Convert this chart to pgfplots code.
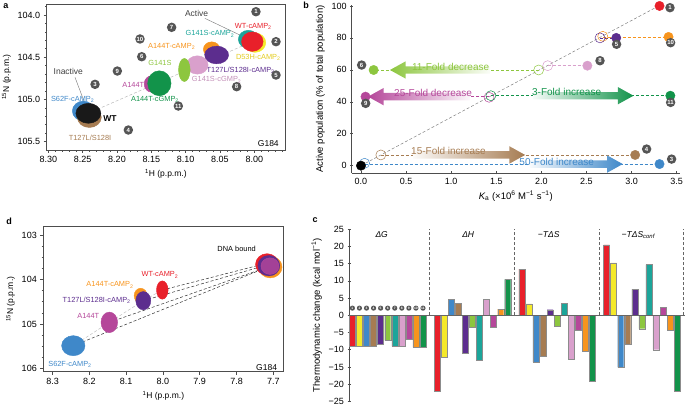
\documentclass[border=0pt]{standalone}
\usepackage{pgfplots}
\pgfplotsset{compat=1.18}
\usepackage{fontspec}
\setmainfont{Liberation Sans}
\usetikzlibrary{shapes.arrows,arrows.meta}
\definecolor{cRed}{HTML}{E8202A}
\definecolor{cYel}{HTML}{F4E92A}
\definecolor{cYelT}{HTML}{E3CC1E}
\definecolor{cBlu}{HTML}{3F88C9}
\definecolor{cBro}{HTML}{A67C52}
\definecolor{cPur}{HTML}{5C2D8E}
\definecolor{cLgr}{HTML}{8DC63F}
\definecolor{cTea}{HTML}{1CA59A}
\definecolor{cPin}{HTML}{D9A0CC}
\definecolor{cMag}{HTML}{B5479A}
\definecolor{cOra}{HTML}{F7941D}
\definecolor{cGre}{HTML}{12934A}
\definecolor{cBadge}{HTML}{555555}
\definecolor{cAx}{HTML}{4D4D4D}
\newcommand\lab{\fontsize{7.4}{8}\selectfont}
\newcommand\tk{\fontsize{9}{10}\selectfont}
\newcommand\al{\fontsize{8.5}{9}\selectfont}
\newcommand\bl{\fontsize{9.5}{10}\selectfont}
\tikzset{badge/.style={circle, fill=cBadge, text=white, inner sep=0pt, minimum size=9.5pt, font=\fontsize{6}{6}\selectfont\bfseries},
  sbadge/.style={circle, fill=cBadge, text=white, inner sep=0pt, minimum size=5.2pt, font=\fontsize{3.3}{3.3}\selectfont\bfseries},
  farrow/.style={single arrow, draw=none, inner xsep=0pt, inner ysep=3.5pt, single arrow head extend=5pt, single arrow tip angle=58}}
\pgfplotsset{
  peak/.style n args={3}{only marks, mark=*, color=#1, mark size=#2, mark options={yscale=#3, draw=none}},
  /pgf/number format/assume math mode=true,
  every axis/.append style={tick align=outside, ticklabel style={font=\tk}, label style={font=\al},
     axis line style={cAx, line width=0.6pt}, tick style={cAx, line width=0.5pt}, major tick length=3pt, minor tick length=1.6pt},
  cbar/.style={ybar, bar width=0.85, bar shift=0pt, fill=#1, draw=black!45, line width=0.3pt}
}
\begin{document}
\begin{tikzpicture}
\path[use as bounding box] (0,0) rectangle (685pt,406pt);
% panel letters
\node[font=\fontsize{9}{9}\selectfont\bfseries] at (6pt,400pt) {a};
\node[font=\fontsize{9}{9}\selectfont\bfseries] at (306pt,401pt) {b};
\node[font=\fontsize{9}{9}\selectfont\bfseries] at (9pt,185pt) {d};
\node[font=\fontsize{9}{9}\selectfont\bfseries] at (315pt,186pt) {c};

% ================= panel a =================
\begin{axis}[at={(46.7pt,256pt)}, anchor=south west, scale only axis, width=238.3pt, height=146pt,
  x dir=reverse, y dir=reverse, xmin=7.9553, xmax=8.3024, ymin=103.870, ymax=105.599,
  xtick={8.30,8.25,8.20,8.15,8.10,8.05,8.00}, xticklabels={8.30,8.25,8.20,8.15,8.10,8.05,8.00},
  minor xtick={7.96,7.97,7.98,7.99,8.01,8.02,8.03,8.04,8.06,8.07,8.08,8.09,8.11,8.12,8.13,8.14,8.16,8.17,8.18,8.19,8.21,8.22,8.23,8.24,8.26,8.27,8.28,8.29},
  ytick={104.0,104.5,105.0,105.5}, yticklabels={104.0,104.5,105.0,105.5},
  minor ytick={103.9,104.1,104.2,104.3,104.4,104.6,104.7,104.8,104.9,105.1,105.2,105.3,105.4,105.6},
  xtick pos=left, ytick pos=left,
  xlabel={\textsuperscript{1}H (p.p.m.)}, ylabel={\textsuperscript{15}N (p.p.m.)}, clip=false]
\addplot[peak={cBlu}{11pt}{0.9}] coordinates {(8.2490,105.137)};
\addplot[peak={cBro}{12pt}{0.85}] coordinates {(8.2403,105.212)};
\addplot[peak={black!90}{12.5pt}{0.8}] coordinates {(8.2417,105.1646)};
\addplot[peak={cTea}{10pt}{0.9}] coordinates {(8.0087,104.288)};
\addplot[peak={cYel}{10.8pt}{0.9}] coordinates {(7.9990,104.3277)};
\addplot[peak={cRed}{10.8pt}{0.9}] coordinates {(8.0029,104.3158)};
\addplot[peak={cOra}{8.3pt}{0.9}] coordinates {(8.0621,104.4066)};
\addplot[only marks, mark=*, color=cPur, mark size=12pt, mark options={yscale=0.74, rotate=20, draw=none}] coordinates {(8.0549,104.4737)};
\addplot[peak={cPin}{10.8pt}{0.85}] coordinates {(8.0830,104.592)};
\addplot[peak={cLgr}{5.8pt}{2.0}] coordinates {(8.1019,104.6514)};
\addplot[peak={cMag}{7.5pt}{1.1}] coordinates {(8.1495,104.817)};
\addplot[peak={cGre}{11.7pt}{1.07}] coordinates {(8.1383,104.809)};
\addplot[densely dashed, gray!55, line width=0.5pt] coordinates {(8.242,105.165) (8.003,104.316)};
% labels
\node[font=\al, text=black!75] at (axis cs:8.084,103.988) {Active};
\draw[-{Stealth[length=3pt]}, black!55, line width=0.4pt] (axis cs:8.072,104.04) -- (axis cs:8.011,104.276);
\node[font=\al, text=black!75] at (axis cs:8.2709,104.671) {Inactive};
\draw[-{Stealth[length=3pt]}, black!55, line width=0.4pt] (axis cs:8.2612,104.738) -- (axis cs:8.2432,105.125);
\node[font=\lab, text=cRed] at (axis cs:8.0015,104.138) {WT-cAMP\textsubscript{2}};
\node[font=\lab, text=cTea] at (axis cs:8.0646,104.225) {G141S-cAMP\textsubscript{2}};
\node[font=\lab, text=cOra] at (axis cs:8.1204,104.375) {A144T-cAMP\textsubscript{2}};
\node[font=\lab, text=cYelT] at (axis cs:7.9942,104.501) {D53H-cAMP\textsubscript{2}};
\node[font=\lab, text=cLgr] at (axis cs:8.1374,104.565) {G141S};
\node[font=\lab, text=cPur] at (axis cs:8.0199,104.651) {T127L/S128I-cAMP\textsubscript{2}};
\node[font=\lab, text=cPin!90!black] at (axis cs:8.0549,104.77) {G141S-cGMP\textsubscript{2}};
\node[font=\lab, text=cMag] at (axis cs:8.1762,104.829) {A144T};
\node[font=\lab, text=cGre] at (axis cs:8.1447,104.999) {A144T-cGMP\textsubscript{2}};
\node[font=\lab, text=cBlu] at (axis cs:8.2646,104.999) {S62F-cAMP\textsubscript{2}};
\node[font=\fontsize{8.5}{9}\selectfont\bfseries] at (axis cs:8.2102,105.224) {WT};
\node[font=\lab, text=cBro] at (axis cs:8.2393,105.453) {T127L/S128I};
\node[font=\al] at (axis cs:7.9796,105.52) {G184};
\addplot[only marks, mark=none, nodes near coords, point meta=explicit symbolic,
  every node near coord/.style={badge}] table[meta=l, row sep=\\] {
x y l\\ 7.9976 104.020 1\\ 7.9684 104.375 2\\ 8.232 104.880 3\\ 8.1835 105.421 4\\ 7.9684 104.770 5\\
8.164 104.553 6\\ 8.1204 104.205 7\\ 8.0257 104.908 8\\ 8.1995 104.7225 9\\ 8.1665 104.343 10\\ 8.1107 105.137 11\\};
\end{axis}

% ================= panel b =================
\begin{axis}[at={(351.7pt,233pt)}, anchor=south west, scale only axis, width=328.3pt, height=168pt,
  axis lines=left, axis line style={-}, xmin=-0.103, xmax=3.537, ymin=-4.6, ymax=100.6,
  xtick={0,0.5,1,1.5,2,2.5,3,3.5}, xticklabels={0.0,0.5,1.0,1.5,2.0,2.5,3.0,3.5},
  ytick={0,20,40,60,80,100}, yticklabels={0,20,40,60,80,100},
  label style={font=\bl},
  xlabel={{\itshape K}\textsubscript{a} (×10\textsuperscript{6} M\textsuperscript{−1} s\textsuperscript{−1})},
  ylabel={Active population (\% of total population)}, clip=false]
\addplot[densely dashed, gray, line width=0.5pt] coordinates {(0,0) (3.3,100)};
\addplot[densely dashed, cLgr, line width=0.6pt] coordinates {(1.97,59.9) (0.14,59.9)};
\addplot[densely dashed, cMag, line width=0.6pt] coordinates {(1.42,43.2) (0.05,43.2)};
\addplot[densely dashed, cGre, line width=0.6pt] coordinates {(1.44,43.8) (3.43,43.8)};
\addplot[densely dashed, cBro, line width=0.6pt] coordinates {(0.22,6.7) (3.04,6.7)};
\addplot[densely dashed, cBlu, line width=0.6pt] coordinates {(0.04,1.0) (3.31,1.0)};
\addplot[densely dashed, cPin, line width=0.6pt] coordinates {(2.07,62.6) (2.51,62.6)};
\addplot[densely dashed, cOra, line width=0.6pt] coordinates {(2.68,80.6) (3.41,80.6)};
\addplot[densely dashed, cPur, line width=0.6pt] coordinates {(2.65,80) (2.83,80)};
% arrows
\node[farrow, minimum height=100pt, shape border rotate=180, left color=cLgr, right color=cLgr!4] at (axis cs:0.913,59.9) {};
\node[farrow, minimum height=102pt, shape border rotate=180, left color=cMag, right color=cMag!4] at (axis cs:0.68,43.2) {};
\node[farrow, minimum height=100pt, left color=cGre!4, right color=cGre] at (axis cs:2.43,43.8) {};
\node[farrow, minimum height=112pt, left color=cBro!4, right color=cBro] at (axis cs:1.162,6.7) {};
\node[farrow, minimum height=93pt, left color=cBlu!4, right color=cBlu] at (axis cs:2.35,1.0) {};
\node[font=\fontsize{10}{11}\selectfont, text=cLgr] at (axis cs:0.994,62.0) {11-Fold decrease};
\node[font=\fontsize{10}{11}\selectfont, text=cMag] at (axis cs:0.80,45.7) {25-Fold decrease};
\node[font=\fontsize{10}{11}\selectfont, text=cGre] at (axis cs:2.28,46.3) {3-Fold increase};
\node[font=\fontsize{10}{11}\selectfont, text=cBro] at (axis cs:0.97,9.4) {15-Fold increase};
\node[font=\fontsize{10}{11}\selectfont, text=cBlu] at (axis cs:2.17,2.5) {50-Fold increase};
% open circles
\addplot[only marks, mark=o, mark size=5pt, cBlu, line width=0.5pt] coordinates {(0.04,1.5)};
\addplot[only marks, mark=o, mark size=5pt, cBro, line width=0.5pt] coordinates {(0.22,6.7)};
\addplot[only marks, mark=o, mark size=5pt, cMag, line width=0.5pt] coordinates {(1.42,42.8)};
\addplot[only marks, mark=o, mark size=5pt, cGre, line width=0.5pt] coordinates {(1.44,43.8)};
\addplot[only marks, mark=o, mark size=5pt, cLgr, line width=0.5pt] coordinates {(1.97,59.9)};
\addplot[only marks, mark=o, mark size=5pt, cPin, line width=0.5pt] coordinates {(2.07,62.6)};
\addplot[only marks, mark=o, mark size=5pt, cOra, line width=0.5pt] coordinates {(2.68,81.0)};
\addplot[only marks, mark=o, mark size=5pt, cPur, line width=0.5pt] coordinates {(2.65,80.0)};
% filled
\addplot[only marks, mark=*, mark size=4.7pt, cRed] coordinates {(3.31,100)};
\addplot[only marks, mark=*, mark size=4.7pt, cOra] coordinates {(3.41,80.6)};
\addplot[only marks, mark=*, mark size=4.7pt, cPur] coordinates {(2.83,80.0)};
\addplot[only marks, mark=*, mark size=4.7pt, cPin] coordinates {(2.51,62.6)};
\addplot[only marks, mark=*, mark size=4.7pt, cLgr] coordinates {(0.14,59.9)};
\addplot[only marks, mark=*, mark size=4.7pt, cMag] coordinates {(0.05,43.2)};
\addplot[only marks, mark=*, mark size=4.7pt, cGre] coordinates {(3.43,43.8)};
\addplot[only marks, mark=*, mark size=4.7pt, cBro] coordinates {(3.04,6.7)};
\addplot[only marks, mark=*, mark size=4.7pt, cBlu] coordinates {(3.31,1.0)};
\addplot[only marks, mark=*, mark size=4.7pt, black] coordinates {(0,0)};
\addplot[only marks, mark=none, nodes near coords, point meta=explicit symbolic,
  every node near coord/.style={badge}] table[meta=l, row sep=\\] {
x y l\\ 3.426 95.8 1\\ 3.433 73.9 10\\ 2.834 72.9 5\\ 2.650 62.6 8\\ 0.007 59.9 6\\
0.052 35.9 9\\ 3.433 36.5 11\\ 3.167 7.3 4\\ 3.444 1.0 3\\};
\end{axis}

% ================= panel c =================
\begin{axis}[at={(349pt,4.5pt)}, anchor=south west, scale only axis, width=335.9pt, height=172.5pt,
  xmin=0.62, xmax=48.2, ymin=-25, ymax=25, axis y line=left, axis x line=none, axis line style={-},
  ytick={-25,-20,-15,-10,-5,0,5,10,15,20,25}, yticklabels={−25,−20,−15,−10,−5,0,5,10,15,20,25},
  label style={font=\bl},
  ylabel={Thermodynamic change (kcal mol\textsuperscript{−1})}, clip=false]
\draw[densely dashed, black!60, line width=0.5pt] (axis cs:12,0) -- (axis cs:12,25);
\draw[densely dashed, black!60, line width=0.5pt] (axis cs:24,0) -- (axis cs:24,25);
\draw[densely dashed, black!60, line width=0.5pt] (axis cs:36,0) -- (axis cs:36,25);
\draw[densely dashed, black!60, line width=0.5pt] (axis cs:48,0) -- (axis cs:48,25);
\addplot[cbar=cRed] coordinates {(1.1,-9.0) (13.1,-21.9) (25.1,13.4) (37.1,20.4)};
\addplot[cbar=cYel] coordinates {(2.1,-8.9) (14.1,-12.2) (26.1,3.3) (38.1,15.2)};
\addplot[cbar=cBlu] coordinates {(3.1,-8.9) (15.1,4.6) (27.1,-13.6) (39.1,-15.1)};
\addplot[cbar=cBro] coordinates {(4.1,-8.9) (16.1,3.5) (28.1,-11.8) (40.1,-8.4)};
\addplot[cbar=cPur] coordinates {(5.1,-8.3) (17.1,-10.9) (29.1,1.6) (41.1,7.5)};
\addplot[cbar=cLgr] coordinates {(6.1,-7.3) (18.1,-3.5) (30.1,-3.2) (42.1,-3.9)};
\addplot[cbar=cTea] coordinates {(7.1,-9.0) (19.1,-12.9) (31.1,3.5) (43.1,14.7)};
\addplot[cbar=cPin] coordinates {(8.1,-9.0) (20.1,4.6) (32.1,-12.7) (44.1,-10.0)};
\addplot[cbar=cMag] coordinates {(9.1,-6.9) (21.1,-3.5) (33.1,-4.3) (45.1,2.3)};
\addplot[cbar=cOra] coordinates {(10.1,-9.3) (22.1,1.8) (34.1,-10.5) (46.1,-4.4)};
\addplot[cbar=cGre] coordinates {(11.1,-9.2) (23.1,10.4) (35.1,-19.1) (47.1,-21.9)};
\draw[black!60, line width=0.5pt] (axis cs:0.62,0) -- (axis cs:48.2,0);
\node[font=\al\itshape] at (axis cs:5.25,23.4) {ΔG};
\node[font=\al\itshape] at (axis cs:17.5,23.4) {ΔH};
\node[font=\al\itshape] at (axis cs:28.9,23.4) {−TΔS};
\node[font=\al\itshape] at (axis cs:41.6,23.2) {−TΔS\textsubscript{conf}};
\addplot[only marks, mark=none, nodes near coords, point meta=explicit symbolic,
  every node near coord/.style={sbadge}] table[meta=l, row sep=\\] {
x y l\\ 1.1 1.25 1\\ 2.1 1.25 2\\ 3.1 1.25 3\\ 4.1 1.25 4\\ 5.1 1.25 5\\ 6.1 1.25 6\\ 7.1 1.25 7\\ 8.1 1.25 8\\ 9.1 1.25 9\\ 10.1 1.25 10\\ 11.1 1.25 11\\};
\end{axis}

% ================= panel d =================
\begin{axis}[at={(43.3pt,34.3pt)}, anchor=south west, scale only axis, width=240pt, height=145pt,
  x dir=reverse, y dir=reverse, xmin=7.6728, xmax=8.3254, ymin=102.8125, ymax=106.075,
  xtick={8.3,8.2,8.1,8.0,7.9,7.8,7.7}, xticklabels={8.3,8.2,8.1,8.0,7.9,7.8,7.7},
  ytick={103,104,105,106}, yticklabels={103,104,105,106}, minor y tick num=3,
  xtick pos=left, ytick pos=left,
  xlabel={\textsuperscript{1}H (p.p.m.)}, ylabel={\textsuperscript{15}N (p.p.m.)}, clip=false]
\addplot[peak={cOra}{11.7pt}{0.93}] coordinates {(7.708,103.72)};
\addplot[peak={cRed}{11.5pt}{0.93}] coordinates {(7.717,103.66)};
\addplot[peak={cPur}{11pt}{0.93}] coordinates {(7.712,103.69)};
\addplot[only marks, mark=*, color=cMag, mark size=9pt, mark options={yscale=0.92, draw=none, fill opacity=0.8}] coordinates {(7.709,103.70)};
\addplot[peak={cRed}{5.8pt}{1.58}] coordinates {(8.0018,104.2375)};
\addplot[peak={cOra}{6.5pt}{1.15}] coordinates {(8.0607,104.365)};
\addplot[peak={cPur}{7.5pt}{1.22}] coordinates {(8.0535,104.4775)};
\addplot[peak={cMag}{8.3pt}{1.24}] coordinates {(8.1459,104.965)};
\addplot[peak={cBlu}{11.7pt}{0.86}] coordinates {(8.2438,105.49)};
\addplot[densely dashed, gray!50, line width=0.5pt] coordinates {(8.2438,105.49) (8.1459,104.965) (8.0535,104.4775) (8.0018,104.2375)};
\addplot[densely dashed, black!80, line width=0.5pt] coordinates {(8.0018,104.2375) (7.725,103.65)};
\addplot[densely dashed, black!80, line width=0.5pt] coordinates {(8.0535,104.4775) (7.728,103.70)};
\addplot[densely dashed, black!80, line width=0.5pt] coordinates {(8.1459,104.965) (7.722,103.74)};
\addplot[densely dashed, black!80, line width=0.5pt] coordinates {(8.2438,105.49) (7.715,103.72)};
\node[font=\lab] at (axis cs:7.7997,103.30) {DNA bound};
\node[font=\lab, text=cRed] at (axis cs:8.0082,103.90) {WT-cAMP\textsubscript{2}};
\node[font=\lab, text=cOra] at (axis cs:8.1441,104.125) {A144T-cAMP\textsubscript{2}};
\node[font=\lab, text=cPur] at (axis cs:8.1804,104.4625) {T127L/S128I-cAMP\textsubscript{2}};
\node[font=\lab, text=cMag] at (axis cs:8.2030,104.815) {A144T};
\node[font=\lab, text=cBlu] at (axis cs:8.2529,105.91) {S62F-cAMP\textsubscript{2}};
\node[font=\al] at (axis cs:7.7181,105.98) {G184};
\end{axis}
\end{tikzpicture}
\end{document}
